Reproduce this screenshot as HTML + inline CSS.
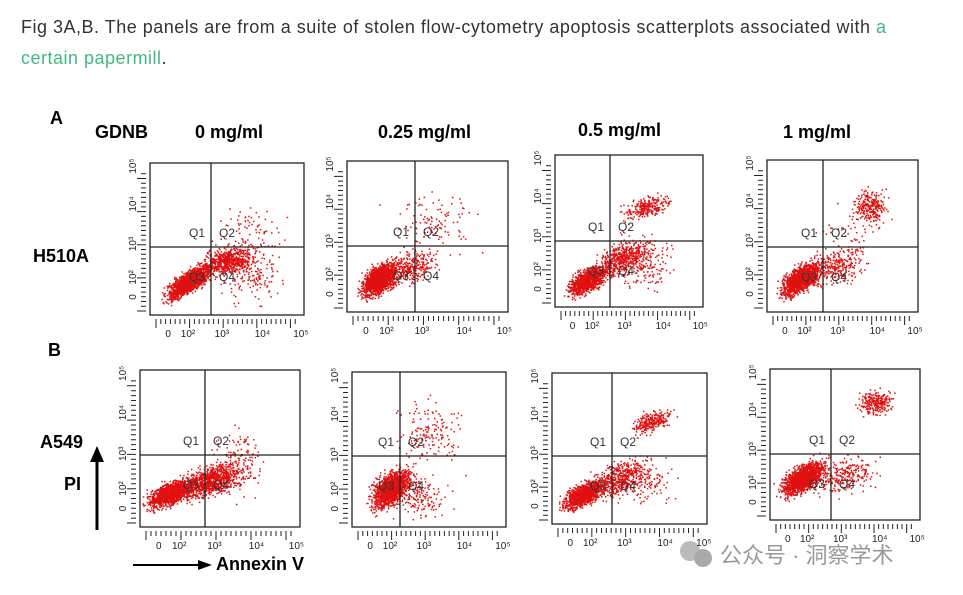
<!DOCTYPE html>
<html><head><meta charset="utf-8"><style>
body{margin:0;width:963px;height:595px;background:#fff;overflow:hidden;font-family:"Liberation Sans","Noto Sans CJK SC",sans-serif;}
#cap{position:absolute;left:21px;top:12px;font-size:18px;letter-spacing:0.5px;line-height:31px;color:#333;width:880px}
#cap a{color:#42b983;text-decoration:none}
svg{position:absolute;left:0;top:0}
</style></head><body>
<div id="cap">Fig 3A,B. The panels are from a suite of stolen flow-cytometry apoptosis scatterplots associated with <a href="#">a certain papermill</a>.</div>
<svg id="fig" width="963" height="595">
<g font-family="Liberation Sans,Arial,sans-serif" font-weight="bold" fill="#000">
<text x="50" y="124" font-size="18">A</text>
<text x="95" y="138" font-size="18">GDNB</text>
<text x="195" y="138" font-size="18">0 mg/ml</text>
<text x="378" y="138" font-size="18">0.25 mg/ml</text>
<text x="578" y="136" font-size="18">0.5 mg/ml</text>
<text x="783" y="138" font-size="18">1 mg/ml</text>
<text x="33" y="262" font-size="18">H510A</text>
<text x="48" y="356" font-size="18">B</text>
<text x="40" y="448" font-size="18">A549</text>
<text x="64" y="490" font-size="18">PI</text>
<text x="216" y="570" font-size="18">Annexin V</text>
</g>
<g><line x1="97" y1="530" x2="97" y2="458" stroke="#000" stroke-width="3"/><polygon points="90,462 104,462 97,446" fill="#000"/></g>
<g><line x1="133" y1="565" x2="200" y2="565" stroke="#000" stroke-width="2"/><polygon points="198,560 198,570 212,565" fill="#000"/></g>
<text x="720" y="563" font-size="22" fill="#999" font-family="Liberation Sans,Noto Sans CJK SC,sans-serif">公众号 · 洞察学术</text>
<g><circle cx="690" cy="551" r="10" fill="#bbb"/><circle cx="703" cy="558" r="9" fill="#aaa"/></g>
</svg>
<script>
// panel boxes: [left, top, right, bottom, vline, hline]
const panelBoxes=[[150,163,304,315,211,247],[347,161,508,312,415,246],[555,155,703,307,610,241],[767,160,918,312,823,247],
[140,370,300,527,205,455],[352,372,506,527,400,456],[552,373,707,524,612,456],[770,369,920,520,831,454]];
// clusters per panel: [cx, cy, sx, sy, count, rho] in fraction of box (y from bottom)
const clusters=[
[[0.25,0.22,0.09,0.07,1500,0.75],[0.5,0.36,0.1,0.06,600,0.3],[0.65,0.3,0.12,0.14,200,0],[0.65,0.58,0.14,0.1,60,0]],
[[0.2,0.22,0.07,0.07,1400,0.5],[0.4,0.3,0.1,0.08,300,0.3],[0.55,0.58,0.16,0.13,110,0]],
[[0.22,0.18,0.08,0.06,1100,0.6],[0.45,0.32,0.11,0.08,500,0.5],[0.6,0.3,0.13,0.11,180,0],[0.62,0.66,0.1,0.05,260,0.5]],
[[0.22,0.22,0.08,0.07,1400,0.6],[0.45,0.3,0.11,0.08,280,0.3],[0.68,0.7,0.07,0.07,260,0],[0.55,0.5,0.14,0.13,60,0]],
[[0.2,0.22,0.1,0.06,1200,0.6],[0.45,0.3,0.12,0.07,900,0.5],[0.62,0.42,0.1,0.14,130,0]],
[[0.25,0.25,0.08,0.08,1400,0.5],[0.5,0.62,0.14,0.13,160,0],[0.42,0.2,0.11,0.09,180,0]],
[[0.2,0.2,0.08,0.06,1100,0.6],[0.42,0.3,0.11,0.08,450,0.5],[0.58,0.3,0.13,0.1,180,0],[0.64,0.68,0.08,0.05,260,0.5]],
[[0.22,0.28,0.09,0.07,1500,0.6],[0.5,0.3,0.13,0.08,250,0.3],[0.7,0.78,0.07,0.05,260,0]]];
const qLabels=["Q1","Q2","Q3","Q4"];
const tickLabels=["0","10²","10³","10⁴","10⁵"];
const tickPos=[0.1,0.2,0.42,0.68,0.93];
const NS="http://www.w3.org/2000/svg",svg=document.getElementById('fig');
let seed=12345;function rnd(){seed=(seed*1103515245+12345)%2147483648;return seed/2147483648;}
function gauss(){return (rnd()+rnd()+rnd()+rnd()-2)/0.8;}
function mk(t,a,p){const e=document.createElementNS(NS,t);for(const k in a)e.setAttribute(k,a[k]);(p||svg).appendChild(e);return e;}
panelBoxes.forEach((b,i)=>{
 const [l,t,r,bt,vx,hy]=b,w=r-l,h=bt-t;
 const g=mk('g',{});
 
 
 const px=f=>l+f*w, py=f=>bt-f*h;
 let d='';
 clusters[i].forEach(c=>{const rho=c[5];for(let k=0;k<c[4];k++){const g1=gauss(),g2=gauss();const x=px(c[0]+g1*c[2]),y=py(c[1]+(rho*g1+Math.sqrt(1-rho*rho)*g2)*c[3]);if(x>l+2&&x<r-2&&y>t+2&&y<bt-2)d+='M'+x.toFixed(1)+' '+y.toFixed(1)+'h1.5v1.5h-1.5z';}});
 const pts=mk('path',{d:d,fill:'#e01010'},g);
 
 
 mk('rect',{x:l,y:t,width:w,height:h,fill:'none',stroke:'#222','stroke-width':1.3},g);
 mk('line',{x1:vx,y1:t,x2:vx,y2:bt,stroke:'#222','stroke-width':1.3},g);
 mk('line',{x1:l,y1:hy,x2:r,y2:hy,stroke:'#222','stroke-width':1.3},g);
 const qp=[[vx-22,hy-10],[vx+8,hy-10],[vx-22,hy+34],[vx+8,hy+34]];
 qLabels.forEach((q,j)=>{const tx=mk('text',{x:qp[j][0],y:qp[j][1],'font-size':12,fill:'#333','font-family':'Liberation Sans,sans-serif'},g);tx.textContent=q;
  
  });
 let td='';
 for(let k=0;k<30;k++){const x=l+6+k*(w-10)/30;td+='M'+x+' '+(bt+4)+'v'+(k%7==0?9:5);}
 for(let k=0;k<30;k++){const y=bt-4-k*(h-10)/30;td+='M'+(l-4)+' '+y+'h-'+(k%7==0?9:5);}
 mk('path',{d:td,stroke:'#222','stroke-width':1},g);
 tickLabels.forEach((s,j)=>{const tx=mk('text',{x:l+tickPos[j]*w,y:bt+22,'font-size':10,fill:'#222','font-family':'Liberation Sans,sans-serif'},g);tx.textContent=s;
  
  
  const ty=mk('text',{x:0,y:0,'font-size':10,fill:'#222','font-family':'Liberation Sans,sans-serif',transform:'translate('+(l-14)+','+(bt-tickPos[j]*h)+') rotate(-90)'},g);ty.textContent=s;
  
  });
});
</script>
</body></html>
